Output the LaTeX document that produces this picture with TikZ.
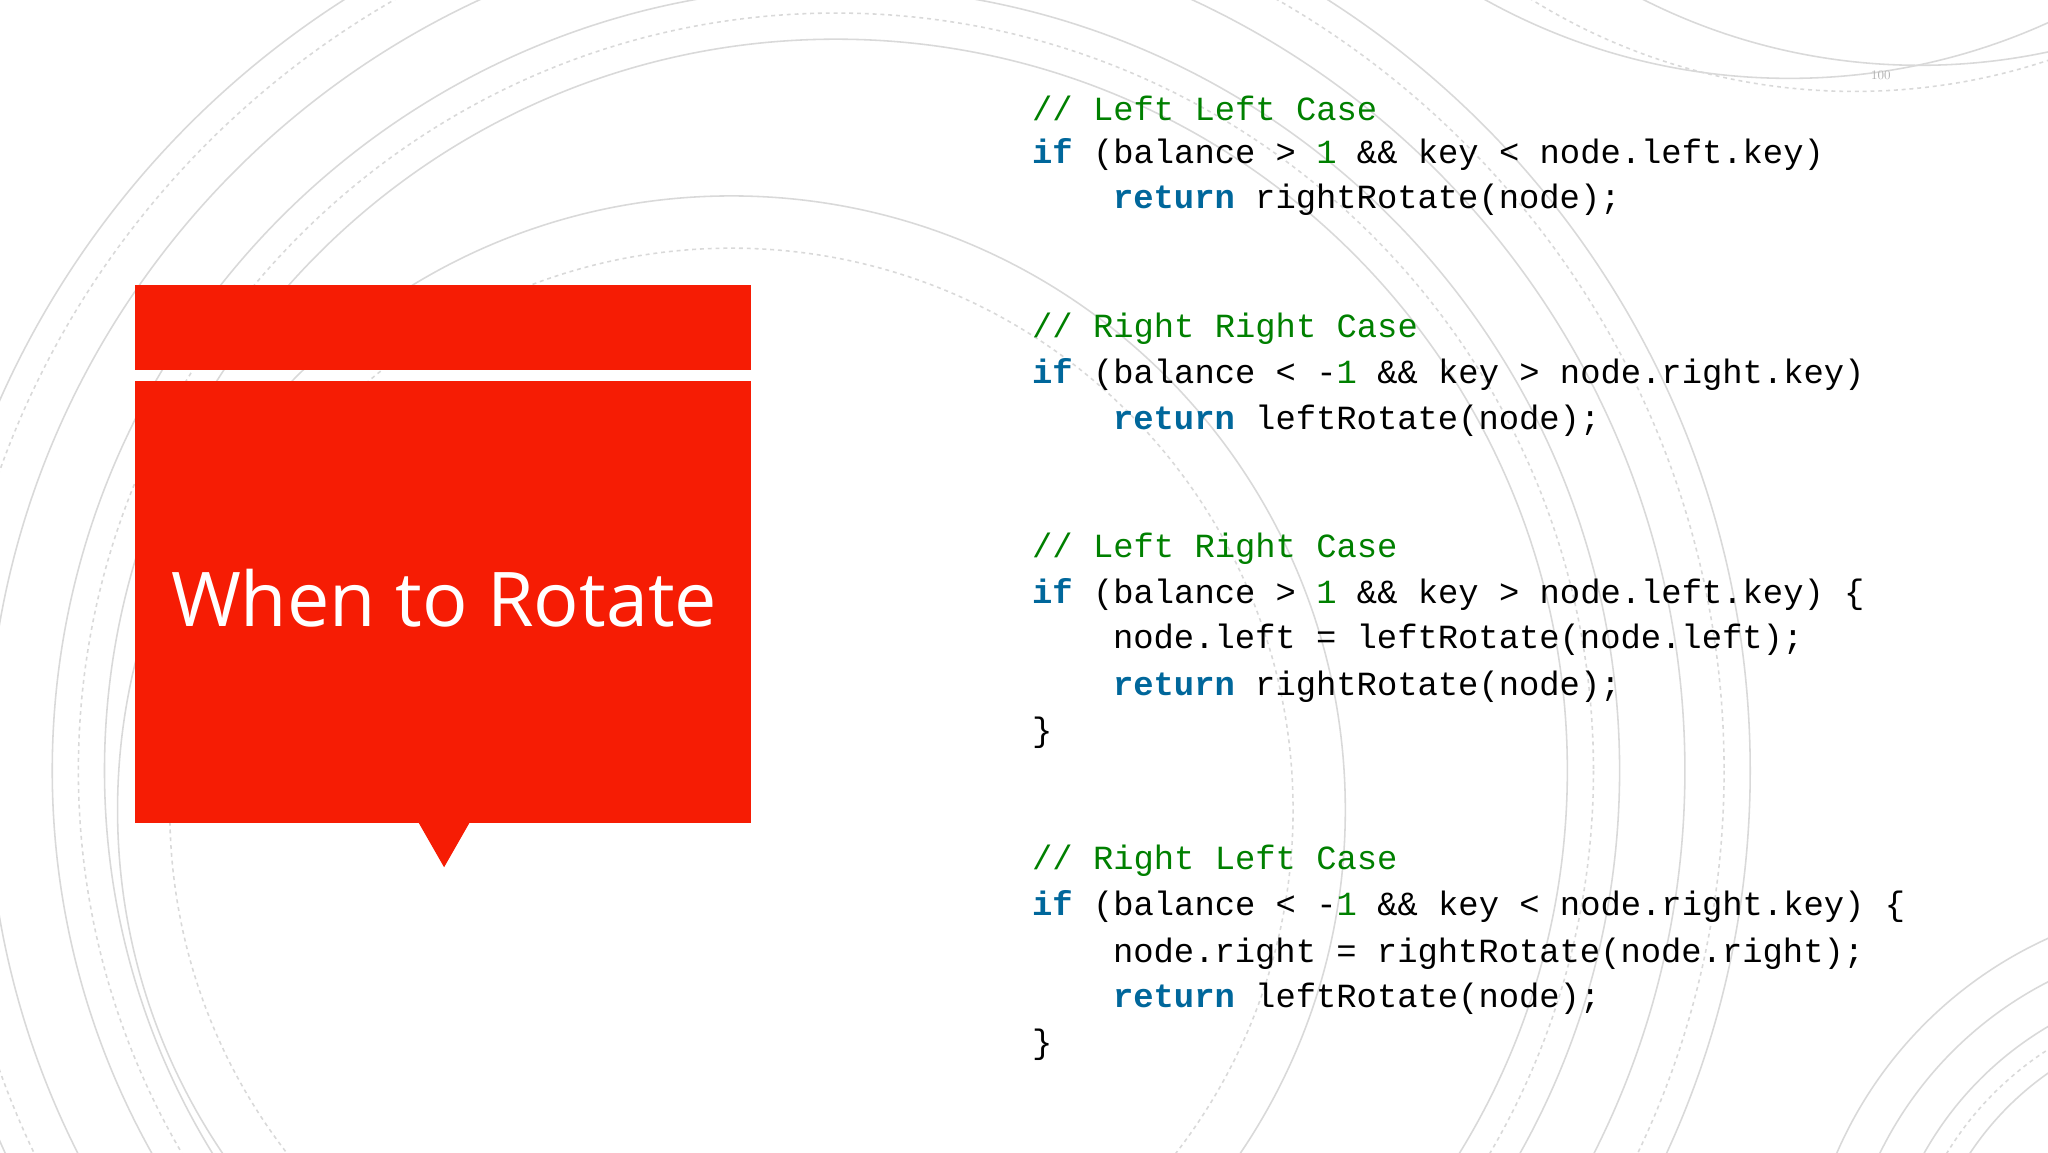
\documentclass[tikz,border=0pt]{standalone}
\usepackage{fontspec}
\setmonofont{Liberation Mono}
\newfontfamily\titlefont{Open Sans}
\definecolor{slidered}{HTML}{F61C04}
\definecolor{cmt}{HTML}{008000}
\definecolor{kw}{HTML}{00679B}
\definecolor{arc}{HTML}{D9D9D9}
\newcommand{\cm}[1]{\textcolor{cmt}{#1}}
\newcommand{\kwd}[1]{\textcolor{kw}{\bfseries #1}}
\begin{document}
\begin{tikzpicture}[x=1bp,y=-1bp,
  codeline/.style={anchor=west,inner sep=0,font=\fontsize{26}{26}\selectfont\ttfamily},
  arcline/.style={draw=arc,line width=1.2bp}]
\useasboundingbox (0,0) rectangle (1568,882);
\fill[white] (0,0) rectangle (1568,882);
\begin{scope}
\clip (0,0) rectangle (1568,882);
% left background arcs
\foreach \r in {560,600,650,700}{\draw[arcline] (640,590) circle[radius=\r];}
\foreach \r in {580,680}{\draw[arcline,dashed] (640,590) circle[radius=\r];}
\draw[arcline] (560,620) circle[radius=470];
\draw[arcline,dashed] (560,620) circle[radius=430];
% top-right arcs
\draw[arcline] (1370,-420) circle[radius=480];
\draw[arcline,dashed] (1420,-400) circle[radius=470];
\draw[arcline] (1470,-420) circle[radius=470];
% bottom-right arcs
\foreach \r in {230,260,290,320}{\draw[arcline] (1700,1010) circle[radius=\r];}
\draw[arcline,dashed] (1700,1010) circle[radius=245];
\end{scope}
% red title box
\fill[slidered] (103,218) rectangle (575,283);
\fill[slidered] (103,292) rectangle (575,630);
\fill[slidered] (320,629) -- (360,629) -- (340,664) -- cycle;
\node[text=white,font=\titlefont\fontsize{58}{58}\selectfont] (title) at (340,458) {When to Rotate};
\node[text=gray!60,font=\fontsize{10}{10}\selectfont] (pg) at (1440,58) {100};
% code
\node[codeline] (l1) at (790,83) {\cm{// Left Left Case}};
\node[codeline] (l2) at (790,118) {\kwd{if} (balance > \cm{1} \&\& key < node.left.key)};
\node[codeline] (l3) at (852,153) {\kwd{return} rightRotate(node);};
\node[codeline] (l4) at (790,252) {\cm{// Right Right Case}};
\node[codeline] (l5) at (790,287) {\kwd{if} (balance < -\cm{1} \&\& key > node.right.key)};
\node[codeline] (l6) at (852,322) {\kwd{return} leftRotate(node);};
\node[codeline] (l7) at (790,420) {\cm{// Left Right Case}};
\node[codeline] (l8) at (790,455) {\kwd{if} (balance > \cm{1} \&\& key > node.left.key) \{};
\node[codeline] (l9) at (852,490) {node.left = leftRotate(node.left);};
\node[codeline] (l10) at (852,526) {\kwd{return} rightRotate(node);};
\node[codeline] (l11) at (790,561) {\}};
\node[codeline] (l12) at (790,659) {\cm{// Right Left Case}};
\node[codeline] (l13) at (790,694) {\kwd{if} (balance < -\cm{1} \&\& key < node.right.key) \{};
\node[codeline] (l14) at (852,730) {node.right = rightRotate(node.right);};
\node[codeline] (l15) at (852,765) {\kwd{return} leftRotate(node);};
\node[codeline] (l16) at (790,800) {\}};
\end{tikzpicture}
\end{document}
